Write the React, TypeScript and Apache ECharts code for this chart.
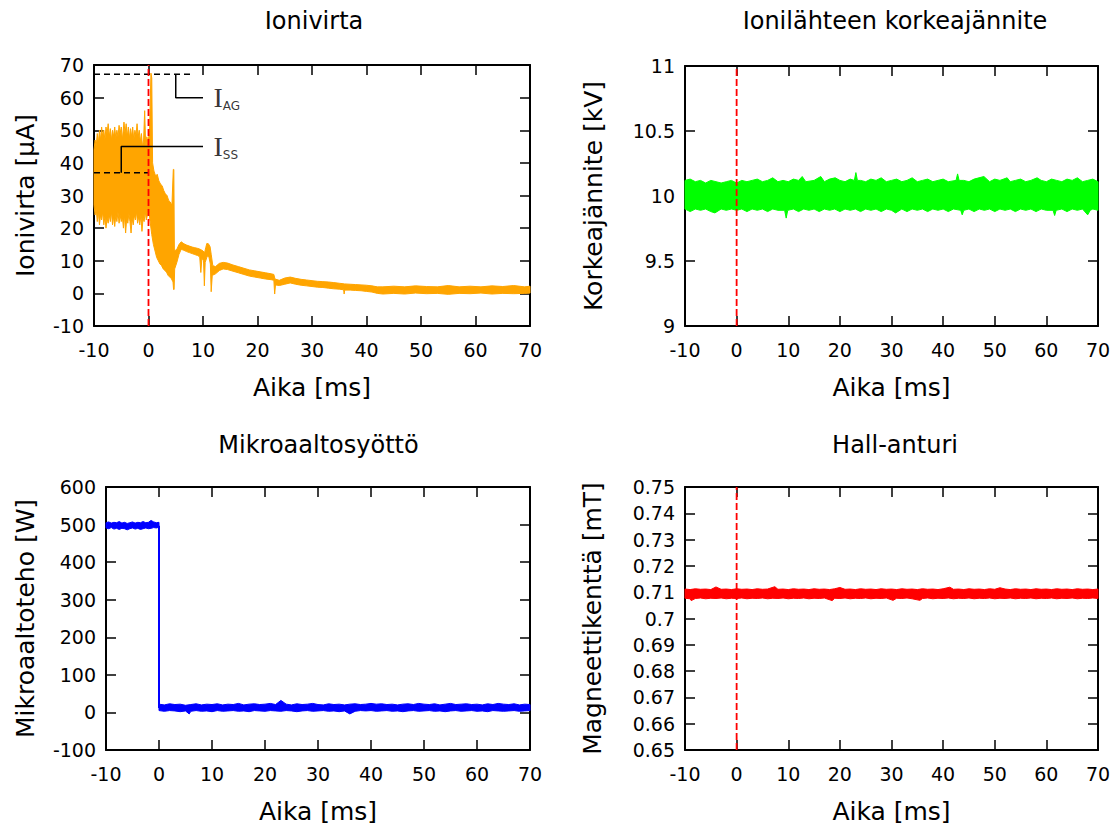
import React, { useEffect, useRef } from "react";
import * as echarts from "echarts";

// ---------- axis ranges / tick labels ----------
const timeMin = -10;
const timeMax = 70;
const timeInterval = 10;
const triggerTime = 0;

const titles = ["Ionivirta", "Ionilähteen korkeajännite", "Mikroaaltosyöttö", "Hall-anturi"];
const yNames = ["Ionivirta [µA]", "Korkeajännite [kV]", "Mikroaaltoteho [W]", "Magneettikenttä [mT]"];
const xName = "Aika [ms]";
const yMins = [-10, 9, -100, 0.65];
const yMaxs = [70, 11, 600, 0.75];
const yIntervals = [10, 0.5, 100, 0.01];

// ---------- Ionivirta (ion current, µA): envelope of the noisy trace ----------
const ionCurrentUpper: [number, number][] = [
  [-10, 44], [-9.8, 47], [-9.6, 45], [-9.4, 49], [-9.2, 46], [-9, 50], [-8.8, 47], [-8.6, 51],
  [-8.4, 48], [-8.2, 50], [-8, 47], [-7.8, 51], [-7.6, 49], [-7.4, 52], [-7.2, 48], [-7, 50.5],
  [-6.8, 47], [-6.6, 50], [-6.4, 48], [-6.2, 51], [-6, 47.5], [-5.8, 50], [-5.6, 48], [-5.4, 51.5],
  [-5.2, 49], [-5, 51], [-4.8, 47], [-4.5, 52.5], [-4.3, 49], [-4.1, 52], [-3.9, 48], [-3.7, 51],
  [-3.5, 47.5], [-3.3, 50.5], [-3.1, 48], [-2.9, 51], [-2.7, 47], [-2.5, 50], [-2.3, 48.5], [-2.1, 52],
  [-1.9, 48], [-1.7, 50], [-1.5, 46.5], [-1.3, 49], [-1.1, 45], [-0.9, 47], [-0.7, 56], [-0.5, 44],
  [-0.3, 48], [-0.1, 46], [0.2, 50], [0.45, 67.5], [0.6, 66], [0.75, 40], [1, 37.5], [1.3, 36],
  [1.6, 36.5], [1.9, 34.5], [2.2, 33.5], [2.5, 33], [2.8, 31.5], [3.1, 30.5], [3.4, 30], [3.7, 28.5],
  [4, 28], [4.3, 27], [4.55, 38], [4.65, 38], [4.75, 13], [5.2, 13.5], [5.6, 15], [6, 15.8],
  [6.5, 15.2], [7, 14.8], [7.5, 14.5], [8, 14.2], [8.5, 14], [9, 13.8], [9.5, 13.5], [10, 13],
  [10.3, 12.5], [10.5, 14], [10.7, 15.3], [11, 15.2], [11.3, 14.3], [11.5, 12], [11.8, 8.5], [12.3, 8.2],
  [13, 9.2], [13.7, 9.5], [14.5, 9.3], [15.5, 8.7], [16.5, 8.2], [17.5, 7.7], [18.5, 7.2], [19.5, 6.9],
  [20.5, 6.6], [21.5, 6.3], [22.5, 6], [23, 5.8], [23.2, 4.4], [24, 4], [25, 4.7], [26, 5],
  [27, 4.6], [28, 4.3], [29, 4.1], [30, 3.9], [31, 3.7], [32, 3.6], [33, 3.5], [34, 3.3],
  [35, 3.1], [36, 2.9], [37, 2.8], [38, 2.7], [39, 2.6], [40, 2.5], [41, 2.3], [42, 2],
  [43, 2], [45, 2.2], [47, 2], [49, 2.3], [51, 2.1], [53, 2], [55, 2.4], [57, 2],
  [59, 2.2], [61, 2], [63, 2.3], [65, 2.1], [67, 2.4], [69, 2], [70, 2.2],
];
const ionCurrentLower: [number, number][] = [
  [-10, 27], [-9.8, 24], [-9.6, 26], [-9.4, 22], [-9.2, 25], [-9, 21], [-8.8, 24], [-8.6, 22.5],
  [-8.4, 25], [-8.2, 21], [-8, 23.5], [-7.8, 20], [-7.6, 23], [-7.4, 21.5], [-7.2, 24], [-7, 22],
  [-6.8, 25], [-6.6, 21], [-6.4, 23.5], [-6.2, 20.5], [-6, 24], [-5.8, 22], [-5.6, 25], [-5.4, 21.5],
  [-5.2, 24], [-5, 22], [-4.8, 23.5], [-4.6, 20], [-4.4, 24], [-4.2, 18.5], [-4, 23], [-3.8, 21.5],
  [-3.6, 24.5], [-3.4, 22], [-3.2, 18.5], [-3, 23], [-2.8, 21], [-2.6, 24], [-2.4, 22.5], [-2.2, 25],
  [-2, 21.5], [-1.8, 23.5], [-1.6, 21], [-1.4, 24], [-1.2, 19], [-1, 23], [-0.8, 22], [-0.6, 25],
  [-0.4, 22.5], [-0.2, 24], [0, 26], [0.3, 22], [0.6, 18], [0.9, 15], [1.2, 13], [1.5, 11],
  [1.8, 10], [2.1, 9], [2.4, 8.5], [2.7, 7.5], [3, 7], [3.3, 6.5], [3.6, 5.5], [3.9, 5],
  [4.2, 4.5], [4.5, 3.5], [4.6, 1.2], [4.7, 1.2], [4.8, 7.5], [5.2, 9.5], [5.6, 12], [6, 13.5],
  [6.5, 13.2], [7, 12.8], [7.5, 12.5], [8, 12.2], [8.5, 11.9], [9, 11.6], [9.4, 11.2], [9.6, 6.4],
  [9.8, 10.8], [10.1, 10], [10.25, 2.3], [10.4, 9.5], [10.8, 11.5], [11.1, 11], [11.35, 9], [11.5, 0.5],
  [11.7, 5.5], [12.3, 6], [13, 7], [13.7, 7.5], [14.5, 7.3], [15.5, 6.8], [16.5, 6.3], [17.5, 5.8],
  [18.5, 5.3], [19.5, 5], [20.5, 4.7], [21.5, 4.4], [22.5, 4.2], [23, 4], [23.15, -0.2], [23.3, 2.6],
  [24, 2.4], [25, 2.8], [26, 3.2], [27, 2.8], [28, 2.5], [29, 2.3], [30, 2.1], [31, 1.9],
  [32, 1.8], [33, 1.6], [34, 1.4], [35, 1.3], [35.8, 1.1], [35.9, -0.2], [36, 1], [37, 1],
  [38, 0.9], [39, 0.8], [40, 0.6], [41, 0.4], [42, 0], [43, -0.2], [45, 0], [47, -0.2],
  [49, 0.1], [51, -0.1], [53, 0], [55, -0.3], [57, 0], [59, -0.1], [61, 0.1], [63, -0.2],
  [65, 0], [67, -0.1], [69, 0], [70, 0.1],
];
// annotation levels (I_AG, I_SS)
const iagDashed: [number, number][] = [[-10, 67.2], [8.3, 67.2]];
const iagLeader: [number, number][] = [[5, 67.2], [5, 60], [10, 60]];
const issDashed: [number, number][] = [[-10, 37], [0, 37]];
const issLeader: [number, number][] = [[-5, 37], [-5, 45], [10, 45]];
const annotationLabels: [number, number, string][] = [[10, 60, "AG"], [10, 45, "SS"]];

// ---------- Korkeajännite (kV) ----------
const voltageUpper: [number, number][] = [
  [-10, 10.12], [-9, 10.13], [-8, 10.11], [-7, 10.12], [-6, 10.1], [-5, 10.12], [-4, 10.11], [-3, 10.1],
  [-2, 10.11], [-1, 10.12], [0, 10.1], [1, 10.12], [2, 10.11], [3, 10.12], [4, 10.13], [5, 10.11],
  [6, 10.12], [7, 10.14], [8, 10.11], [9, 10.12], [10, 10.11], [11, 10.13], [12, 10.12], [12.7, 10.15],
  [13.4, 10.11], [15, 10.12], [16.3, 10.15], [17, 10.11], [18, 10.13], [19.1, 10.14], [20, 10.12], [21, 10.11],
  [22, 10.13], [22.8, 10.12], [23.1, 10.18], [23.4, 10.12], [24, 10.12], [25, 10.11], [26, 10.13], [27, 10.12],
  [28, 10.14], [29, 10.11], [30, 10.12], [31, 10.13], [32, 10.11], [33, 10.12], [34, 10.14], [35, 10.11],
  [36, 10.12], [37, 10.13], [38, 10.11], [39, 10.12], [40, 10.13], [41, 10.11], [42.5, 10.12], [42.8, 10.17],
  [43.1, 10.12], [44, 10.12], [45, 10.11], [46, 10.13], [47.9, 10.15], [49, 10.11], [50, 10.13], [51, 10.12],
  [52.4, 10.14], [53, 10.11], [54, 10.12], [55, 10.13], [56, 10.11], [57, 10.12], [58.2, 10.14], [59, 10.12],
  [60, 10.11], [61, 10.13], [62, 10.12], [63, 10.11], [64, 10.13], [65, 10.12], [66, 10.14], [67, 10.11],
  [68, 10.12], [69, 10.13], [70, 10.11],
];
const voltageLower: [number, number][] = [
  [-10, 9.9], [-9, 9.88], [-8, 9.9], [-7, 9.89], [-6, 9.9], [-5, 9.88], [-4.2, 9.87], [-3, 9.9],
  [-2, 9.89], [-1, 9.9], [0, 9.89], [1, 9.9], [2, 9.88], [3, 9.9], [4, 9.89], [5, 9.9],
  [6, 9.88], [7, 9.9], [8, 9.89], [9.3, 9.89], [9.6, 9.83], [9.9, 9.89], [11, 9.9], [12, 9.88],
  [13, 9.9], [14, 9.89], [15, 9.9], [16, 9.88], [17, 9.9], [18, 9.89], [19, 9.9], [20, 9.88],
  [21, 9.9], [22, 9.89], [23, 9.9], [24, 9.88], [25, 9.9], [26, 9.89], [27, 9.9], [28, 9.88],
  [29, 9.9], [30, 9.89], [30.8, 9.87], [32, 9.9], [33, 9.88], [34, 9.9], [35, 9.89], [36, 9.9],
  [37, 9.88], [38, 9.9], [39, 9.89], [40, 9.9], [41, 9.88], [42, 9.9], [43.4, 9.89], [43.7, 9.855],
  [44, 9.89], [45, 9.9], [46, 9.88], [47, 9.9], [48, 9.89], [49, 9.9], [50, 9.88], [51, 9.9],
  [52, 9.89], [53, 9.9], [54, 9.88], [55, 9.9], [56, 9.89], [57, 9.9], [58, 9.88], [59, 9.9],
  [60, 9.89], [61.3, 9.89], [61.6, 9.85], [61.9, 9.89], [63, 9.9], [64, 9.88], [65, 9.9], [66, 9.89],
  [67, 9.9], [68, 9.855], [68.5, 9.89], [69, 9.9], [70, 9.89],
];

// ---------- Mikroaaltoteho (W) ----------
const powerHighUpper: [number, number][] = [
  [-10, 505], [-9.5, 507], [-9, 504], [-8.5, 506], [-8, 505], [-7.5, 508], [-7, 504], [-6.5, 506],
  [-6, 503], [-5.5, 505], [-5, 507], [-4.5, 504], [-4, 506], [-3.5, 505], [-3, 508], [-2.5, 505],
  [-2, 506], [-1.5, 511], [-1, 507], [-0.5, 505], [0, 506],
];
const powerHighLower: [number, number][] = [
  [-10, 491], [-9.5, 489], [-9, 492], [-8.5, 488], [-8, 490], [-7.5, 487], [-7, 490], [-6.5, 489],
  [-6, 486], [-5.5, 489], [-5, 491], [-4.5, 488], [-4, 490], [-3.5, 487], [-3, 489], [-2.5, 491],
  [-2, 489], [-1.5, 490], [-1, 492], [-0.5, 491], [0, 493],
];
const powerStep: [number, number][] = [[0, 497], [0, 12]];
const powerLowUpper: [number, number][] = [
  [0, 22], [1, 20], [2, 23], [3, 21], [4, 22], [5, 19], [6, 21], [7, 23], [8, 20], [9, 22],
  [10, 21], [11, 23], [12, 20], [13, 22], [14, 21], [15, 24], [16, 20], [17, 22], [18, 23], [19, 21],
  [20, 22], [21, 24], [22, 21], [23, 32], [24, 22], [25, 20], [26, 23], [27, 21], [28, 22], [29, 24],
  [30, 21], [31, 20], [32, 23], [33, 21], [34, 22], [35, 20], [36, 22], [37, 23], [38, 21], [39, 22],
  [40, 24], [41, 22], [42, 23], [43, 21], [44, 22], [45, 20], [46, 22], [47, 23], [48, 21], [49, 24],
  [50, 22], [51, 21], [52, 23], [53, 20], [54, 22], [55, 24], [56, 21], [57, 22], [58, 23], [59, 21],
  [60, 22], [61, 20], [62, 23], [63, 21], [64, 24], [65, 22], [66, 21], [67, 23], [68, 20], [69, 22],
  [70, 21],
];
const powerLowLower: [number, number][] = [
  [0, 5], [1, 3], [2, 5], [3, 4], [4, 2], [5, 4], [5.7, -4], [6, 3], [7, 5], [8, 3], [9, 4],
  [10, 2], [11, 5], [12, 3], [13, 4], [14, 5], [15, 3], [16, 4], [17, 2], [18, 5], [19, 4],
  [20, 3], [21, 5], [22, 4], [23, 3], [24, 5], [25, 4], [26, 2], [27, 4], [28, 5], [29, 3],
  [30, 4], [31, 5], [32, 3], [33, 4], [34, 2], [35, 4], [36, -4], [37, 3], [38, 5], [39, 4],
  [40, 5], [41, 3], [42, 4], [43, 5], [44, 3], [45, 4], [46, 2], [47, 4], [48, 5], [49, 3],
  [50, 4], [51, 5], [52, 3], [53, 4], [54, 2], [55, 4], [56, 5], [57, 3], [58, 4], [59, 5],
  [60, 3], [61, 4], [62, 2], [63, 5], [64, 4], [65, 3], [66, 4], [67, 5], [68, 3], [69, 4],
  [70, 5],
];

// ---------- Magneettikenttä (mT) ----------
const hallUpper: [number, number][] = [
  [-10, 0.7112], [-9, 0.711], [-8, 0.7113], [-7, 0.7111], [-6, 0.7112], [-5, 0.711], [-4, 0.712], [-3, 0.7111],
  [-2, 0.7112], [-1, 0.711], [0, 0.7113], [1, 0.7111], [2, 0.7112], [3, 0.711], [4, 0.7113], [5, 0.7111],
  [6, 0.7112], [7.4, 0.7121], [8, 0.7111], [9, 0.7112], [10, 0.711], [11, 0.7113], [12, 0.7111], [13, 0.7112],
  [14, 0.711], [15, 0.7113], [16, 0.7111], [17, 0.7112], [18, 0.711], [19, 0.7113], [20, 0.7118], [21, 0.7111],
  [22, 0.7112], [23, 0.711], [24, 0.7113], [25, 0.7111], [26, 0.7112], [27, 0.711], [28, 0.7113], [29, 0.7111],
  [30, 0.7112], [31, 0.711], [32, 0.7113], [33, 0.7111], [34, 0.7112], [35, 0.711], [36, 0.7113], [37, 0.7111],
  [38, 0.7112], [39, 0.711], [40, 0.7113], [41.3, 0.7119], [42, 0.7111], [43, 0.7112], [44, 0.711], [45, 0.7113],
  [46, 0.7111], [47, 0.7112], [48, 0.711], [49, 0.7113], [50, 0.7111], [51, 0.7117], [52, 0.7112], [53, 0.711],
  [54, 0.7113], [55, 0.7111], [56, 0.7112], [57, 0.711], [58, 0.7113], [59, 0.7111], [60, 0.7112], [61, 0.711],
  [62, 0.7113], [63, 0.7111], [64, 0.7112], [65, 0.711], [66, 0.7113], [67, 0.7111], [68, 0.7112], [69, 0.711],
  [70, 0.7112],
];
const hallLower: [number, number][] = [
  [-10, 0.7077], [-9, 0.7075], [-8.8, 0.7068], [-8, 0.7076], [-7, 0.7078], [-6, 0.7075], [-5, 0.7077], [-4, 0.7076],
  [-3, 0.7078], [-2, 0.7075], [-1, 0.7077], [0, 0.7076], [1, 0.7078], [2, 0.7075], [3, 0.7077], [4, 0.7076],
  [5, 0.7078], [6, 0.7075], [7, 0.7077], [8, 0.7076], [9, 0.7078], [10, 0.7075], [11, 0.7077], [12, 0.7076],
  [13, 0.7078], [14, 0.7075], [15, 0.7077], [16, 0.7076], [17, 0.7078], [18.5, 0.7068], [19, 0.7077], [20, 0.7076],
  [21, 0.7078], [22, 0.7075], [23, 0.7077], [24, 0.7076], [25, 0.7078], [26, 0.7075], [27, 0.7077], [28, 0.7076],
  [29, 0.7078], [30.3, 0.7069], [31, 0.7077], [32, 0.7076], [33, 0.7078], [34, 0.7075], [35.5, 0.7069], [36, 0.7076],
  [37, 0.7078], [38, 0.7075], [39, 0.7077], [40, 0.7076], [41, 0.7078], [42, 0.7075], [43, 0.7077], [44, 0.7076],
  [45, 0.7078], [46, 0.7075], [47, 0.7077], [48, 0.7076], [49, 0.7078], [50, 0.7075], [51, 0.7077], [52, 0.7076],
  [53, 0.7078], [54, 0.7075], [55, 0.7077], [56, 0.7076], [57, 0.7078], [58, 0.7075], [59, 0.7077], [60, 0.7076],
  [61, 0.7078], [62, 0.7075], [63, 0.7077], [64, 0.7076], [65, 0.7078], [66, 0.7075], [67, 0.7077], [68, 0.7076],
  [69, 0.7078], [70, 0.7076],
];

// ---------- layout / styling ----------
const FONT = "DejaVu Sans";
const grids = [
  { left: 94, top: 65, width: 436, height: 261 },
  { left: 685, top: 66, width: 413, height: 260 },
  { left: 106, top: 487, width: 424, height: 263 },
  { left: 685, top: 487, width: 413, height: 263 },
];
const yNameGaps = [56, 79, 68, 80];
const titlePos = [[314, 21], [895, 21], [318.5, 445], [895, 445]];

function band(upper: [number, number][], lower: [number, number][], color: string, gi: number) {
  return {
    type: "custom",
    xAxisIndex: gi * 2,
    yAxisIndex: gi * 2,
    data: [[upper[0][0], upper[0][1]]],
    silent: true,
    z: 2,
    renderItem: (_p: any, api: any) => {
      const pts = upper.map((p) => api.coord(p)).concat(lower.slice().reverse().map((p) => api.coord(p)));
      return {
        type: "polygon",
        shape: { points: pts },
        style: { fill: color, stroke: color, lineWidth: 1 },
      };
    },
  };
}

function line(data: [number, number][], gi: number, color: string, width: number, dashed: any, z: number) {
  return {
    type: "line",
    xAxisIndex: gi * 2,
    yAxisIndex: gi * 2,
    data,
    symbol: "none",
    silent: true,
    z,
    lineStyle: { color, width, type: dashed },
  };
}

export default function App() {
  const ref = useRef<HTMLDivElement>(null);
  useEffect(() => {
    if (!ref.current) return;
    const chart = echarts.init(ref.current, undefined, { renderer: "svg" });
    const tick = { show: true, inside: true, length: 10, lineStyle: { color: "#000", width: 1.5 } };
    const axisLine = { show: true, onZero: false, lineStyle: { color: "#000", width: 2 } };
    const xAxis: any[] = [];
    const yAxis: any[] = [];
    grids.forEach((_g, gi) => {
      xAxis.push({
        type: "value", gridIndex: gi, min: timeMin, max: timeMax, interval: timeInterval, position: "bottom",
        axisLine, axisTick: tick, splitLine: { show: false },
        axisLabel: { color: "#000", fontFamily: FONT, fontSize: 19, margin: 14 },
        name: xName, nameLocation: "middle", nameGap: 49,
        nameTextStyle: { color: "#000", fontFamily: FONT, fontSize: 25 },
      });
      xAxis.push({
        type: "value", gridIndex: gi, min: timeMin, max: timeMax, interval: timeInterval, position: "top",
        axisLine, axisTick: tick, splitLine: { show: false }, axisLabel: { show: false },
      });
      yAxis.push({
        type: "value", gridIndex: gi, min: yMins[gi], max: yMaxs[gi], interval: yIntervals[gi], position: "left",
        axisLine, axisTick: tick, splitLine: { show: false },
        axisLabel: { color: "#000", fontFamily: FONT, fontSize: 19, margin: 10 },
        name: yNames[gi], nameLocation: "middle", nameGap: yNameGaps[gi],
        nameTextStyle: { color: "#000", fontFamily: FONT, fontSize: 25 },
      });
      yAxis.push({
        type: "value", gridIndex: gi, min: yMins[gi], max: yMaxs[gi], interval: yIntervals[gi], position: "right",
        axisLine, axisTick: tick, splitLine: { show: false }, axisLabel: { show: false },
      });
    });

    const redDash = (gi: number, z: number) =>
      line([[triggerTime, yMins[gi]], [triggerTime, yMaxs[gi]]], gi, "#ff0000", 1.8, [7, 3], z);

    const series: any[] = [
      band(ionCurrentUpper, ionCurrentLower, "#ffa500", 0),
      line(iagDashed, 0, "#000", 1.5, [6, 4], 5),
      line(iagLeader, 0, "#000", 1.5, "solid", 5),
      line(issDashed, 0, "#000", 1.5, [6, 4], 5),
      line(issLeader, 0, "#000", 1.5, "solid", 5),
      redDash(0, 6),
      {
        type: "scatter", xAxisIndex: 0, yAxisIndex: 0, data: annotationLabels, symbolSize: 1,
        itemStyle: { color: "rgba(0,0,0,0)" }, silent: true, z: 7,
        label: {
          show: true, position: "right", distance: 10,
          formatter: (p: any) => `{i|I}{s|${p.data[2]}}`,
          rich: {
            i: { fontFamily: "Liberation Serif", fontSize: 28, color: "#000", verticalAlign: "bottom", lineHeight: 28 },
            s: { fontFamily: FONT, fontSize: 12, color: "#000", verticalAlign: "bottom", lineHeight: 12 },
          },
        },
      },
      band(voltageUpper, voltageLower, "#00ff00", 1),
      redDash(1, 6),
      band(powerHighUpper, powerHighLower, "#0000ff", 2),
      band(powerLowUpper, powerLowLower, "#0000ff", 2),
      line(powerStep, 2, "#0000ff", 2, "solid", 3),
      band(hallUpper, hallLower, "#ff0000", 3),
      redDash(3, 6),
    ];

    chart.setOption({
      animation: false,
      backgroundColor: "#fff",
      grid: grids.map((g) => ({ ...g, containLabel: false })),
      xAxis,
      yAxis,
      series,
      graphic: titles.map((t, i) => ({
        type: "text",
        x: titlePos[i][0],
        y: titlePos[i][1],
        silent: true,
        style: { text: t, fontFamily: FONT, fontSize: 24, fill: "#000", align: "center", verticalAlign: "middle" },
      })),
    });
    return () => chart.dispose();
  }, []);
  return <div ref={ref} style={{ position: "absolute", left: 0, top: 0, width: 1117, height: 832 }} />;
}
